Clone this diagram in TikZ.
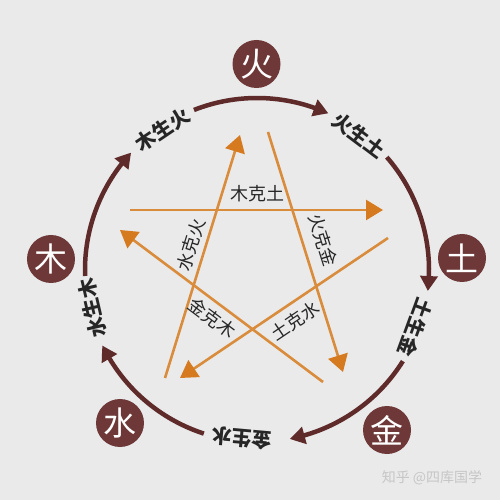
\documentclass[tikz,border=0pt]{standalone}
\usepackage{fontspec}
\newfontfamily\cjk{Noto Sans CJK SC}
\usetikzlibrary{arrows.meta,bending}
\definecolor{bgc}{HTML}{EAEAEA}
\definecolor{elemc}{HTML}{6E3838}
\definecolor{arcc}{HTML}{5E2A2A}
\definecolor{kel}{HTML}{D98C3C}
\definecolor{ket}{HTML}{D67A1F}
\definecolor{labc}{HTML}{262626}
\definecolor{wmc}{HTML}{C6C6C6}
\begin{document}
\begin{tikzpicture}[x=1pt,y=1pt,
  elem/.style={circle,fill=elemc,minimum size=48pt,inner sep=0pt,text=white,font=\cjk\fontsize{33}{33}\selectfont},
  shengarc/.style={draw=arcc,line width=4.5pt,-{Triangle[length=15pt,width=17pt,bend,color=arcc]}},
  kearrow/.style={draw=kel,line width=2.6pt,-{Triangle[length=17pt,width=20pt,color=ket]}},
  shenglab/.style={text=labc,font=\cjk\bfseries\fontsize{20}{20}\selectfont,inner sep=0pt},
  kelab/.style={text=labc,font=\cjk\fontsize{18}{18}\selectfont,inner sep=0pt},
]
\fill[bgc] (-257,-230) rectangle (243,270);
\useasboundingbox (-257,-230) rectangle (243,270);

% element circles
\node[elem] (huo) at (-0.5,206) {火};
\node[elem] (tu) at (205,12) {土};
\node[elem] (jin) at (130,-160) {金};
\node[elem] (shui) at (-137,-153) {水};
\node[elem] (mu) at (-206,11) {木};

% generating cycle arcs
\coordinate (a1) at (111.5:172);
\coordinate (a2) at (41:172);
\coordinate (a3) at (-32:172);
\coordinate (a4) at (-108:172);
\coordinate (a5) at (182:172);
\draw[shengarc] (a1) arc[start angle=111.5,end angle=65.5,radius=172];
\draw[shengarc] (a2) arc[start angle=41,end angle=-7,radius=172];
\draw[shengarc] (a3) arc[start angle=-32,end angle=-79,radius=172];
\draw[shengarc] (a4) arc[start angle=-108,end angle=-154,radius=172];
\draw[shengarc] (a5) arc[start angle=182,end angle=137,radius=172];

% generating labels
\node[shenglab,rotate=34] (s1) at (124:169) {木生火};
\node[shenglab,rotate=-37] (s2) at (53:169) {火生土};
\node[shenglab,rotate=-110] (s3) at (-20:169) {土生金};
\node[shenglab,rotate=-185] (s4) at (-95:169) {金生水};
\node[shenglab,rotate=103] (s5) at (-167:169) {水生木};

% overcoming star
\coordinate (k1s) at (-127,60);  \coordinate (k1e) at (126,60);
\coordinate (k2s) at (11,138);   \coordinate (k2e) at (86,-102);
\coordinate (k3s) at (66,-112);  \coordinate (k3e) at (-137,40);
\coordinate (k4s) at (131,32);   \coordinate (k4e) at (-77,-108);
\coordinate (k5s) at (-92,-108); \coordinate (k5e) at (-17,135);
\draw[kearrow] (k1s) -- (k1e);
\draw[kearrow] (k2s) -- (k2e);
\draw[kearrow] (k3s) -- (k3e);
\draw[kearrow] (k4s) -- (k4e);
\draw[kearrow] (k5s) -- (k5e);

\node[kelab] (t1) at (0,76) {木克土};
\node[kelab,rotate=-72.6] (t2) at (66,30) {火克金};
\node[kelab,rotate=-36.8] (t3) at (-45,-48) {金克木};
\node[kelab,rotate=34] (t4) at (38,-51) {土克水};
\node[kelab,rotate=72.8] (t5) at (-66,25) {水克火};

% watermark
\node[font=\cjk\fontsize{14}{14}\selectfont,text=wmc] (wm) at (175,-208) {知乎 @四库国学};
\end{tikzpicture}
\end{document}
